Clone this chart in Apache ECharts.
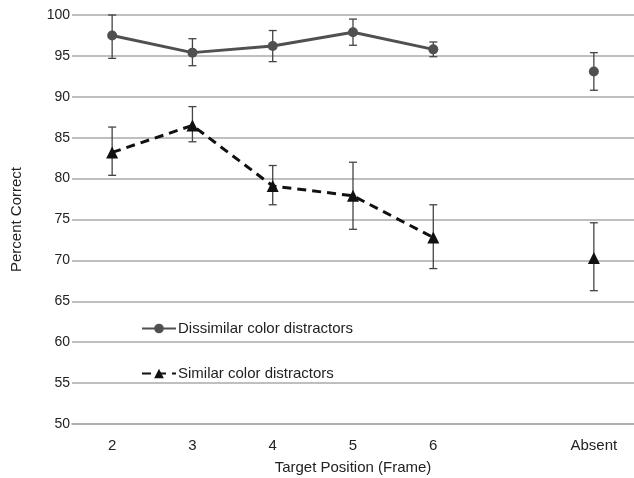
<!DOCTYPE html>
<html>
<head>
<meta charset="utf-8">
<script src="https://cdn.jsdelivr.net/npm/echarts@6/dist/echarts.min.js"></script>
<style>
  html, body { margin: 0; padding: 0; background: #fff; }
  #chart { width: 634px; height: 478px; }
</style>
</head>
<body>
<div id="chart"></div>
<script>
const categories = ['2', '3', '4', '5', '6', '', 'Absent'];
const yTicks = [50, 55, 60, 65, 70, 75, 80, 85, 90, 95, 100];

const dissimilarMean = [97.5, 95.4, 96.2, 97.9, 95.8, null, 93.1];
const dissimilarLow  = [94.7, 93.8, 94.3, 96.3, 94.9, null, 90.8];
const dissimilarHigh = [100.0, 97.1, 98.1, 99.5, 96.7, null, 95.4];

const similarMean = [83.2, 86.5, 79.1, 77.9, 72.8, null, 70.3];
const similarLow  = [80.4, 84.5, 76.8, 73.8, 69.0, null, 66.3];
const similarHigh = [86.3, 88.8, 81.6, 82.0, 76.8, null, 74.6];

const font = 'Liberation Sans, Arial, sans-serif';

function toLine(arr) {
  return arr.map(v => (v == null ? '-' : v));
}

function errorData(low, high) {
  const out = [];
  low.forEach((l, i) => {
    if (l != null) out.push([i, l, high[i]]);
  });
  return out;
}

function renderError(params, api) {
  const x = api.value(0);
  const lo = api.coord([x, api.value(1)]);
  const hi = api.coord([x, api.value(2)]);
  const half = 4;
  const style = { stroke: '#444', lineWidth: 1.3, fill: null };
  return {
    type: 'group',
    children: [
      { type: 'line', shape: { x1: lo[0], y1: lo[1], x2: hi[0], y2: hi[1] }, style: style },
      { type: 'line', shape: { x1: hi[0] - half, y1: hi[1], x2: hi[0] + half, y2: hi[1] }, style: style },
      { type: 'line', shape: { x1: lo[0] - half, y1: lo[1], x2: lo[0] + half, y2: lo[1] }, style: style }
    ]
  };
}

const chart = echarts.init(document.getElementById('chart'));
chart.setOption({
  animation: false,
  backgroundColor: '#fff',
  textStyle: { fontFamily: font },
  grid: { left: 72, right: 0, top: 15, bottom: 54, outerBoundsMode: 'none', containLabel: false },
  legend: {
    orient: 'vertical',
    left: 136,
    top: 316,
    itemGap: 30,
    itemWidth: 34,
    itemHeight: 12,
    textStyle: { fontFamily: font, fontSize: 15, color: '#222', padding: [0, 0, 0, -3] },
    data: ['Dissimilar color distractors', 'Similar color distractors']
  },
  xAxis: {
    type: 'category',
    data: categories,
    name: 'Target Position (Frame)',
    nameLocation: 'middle',
    nameGap: 36,
    nameTextStyle: { fontFamily: font, fontSize: 15, color: '#222' },
    axisLine: { lineStyle: { color: '#aaa', width: 1.5 } },
    axisTick: { alignWithLabel: true, length: 4, lineStyle: { color: '#aaa' } },
    axisLabel: { fontFamily: font, fontSize: 15, color: '#222', margin: 14 }
  },
  yAxis: {
    type: 'value',
    min: yTicks[0],
    max: yTicks[yTicks.length - 1],
    interval: 5,
    name: 'Percent Correct',
    nameLocation: 'middle',
    nameGap: 48,
    nameTextStyle: { fontFamily: font, fontSize: 15, color: '#222' },
    axisLine: { show: false },
    axisTick: { show: false },
    axisLabel: { fontFamily: font, fontSize: 14, color: '#222', margin: 2 },
    splitLine: { lineStyle: { color: '#aaa', width: 1.5 } }
  },
  series: [
    {
      name: 'Dissimilar color distractors',
      type: 'line',
      data: toLine(dissimilarMean),
      symbol: 'circle',
      symbolSize: 10,
      connectNulls: false,
      lineStyle: { color: '#505050', width: 3 },
      itemStyle: { color: '#505050' },
      z: 3
    },
    {
      name: 'Similar color distractors',
      type: 'line',
      data: toLine(similarMean),
      symbol: 'triangle',
      symbolSize: 12,
      connectNulls: false,
      lineStyle: { color: '#111', width: 3, type: [9, 6] },
      itemStyle: { color: '#111' },
      z: 3
    },
    {
      type: 'custom',
      renderItem: renderError,
      data: errorData(dissimilarLow, dissimilarHigh),
      z: 2,
      silent: true
    },
    {
      type: 'custom',
      renderItem: renderError,
      data: errorData(similarLow, similarHigh),
      z: 2,
      silent: true
    }
  ]
});
</script>
</body>
</html>
